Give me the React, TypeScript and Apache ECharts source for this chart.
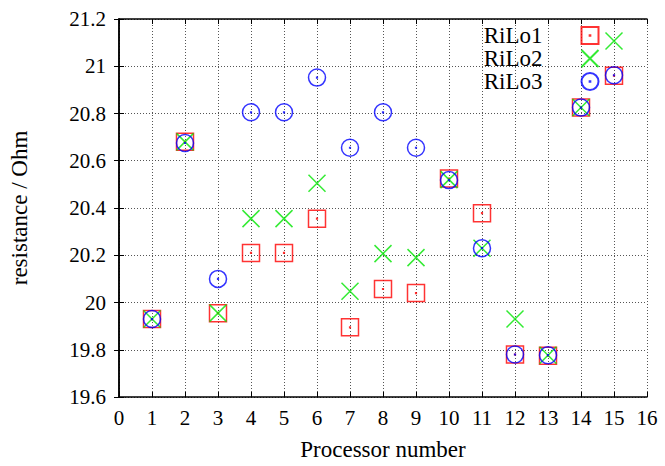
import React, { useEffect, useRef } from "react";
import * as echarts from "echarts";

const processors = [1, 2, 3, 4, 5, 6, 7, 8, 9, 10, 11, 12, 13, 14, 15];
const rilo1 = [19.93, 20.68, 19.955, 20.21, 20.21, 20.355, 19.895, 20.057, 20.04, 20.525, 20.378, 19.78, 19.775, 20.825, 20.96];
const rilo2 = [19.93, 20.68, 19.955, 20.355, 20.355, 20.505, 20.048, 20.207, 20.19, 20.52, 20.23, 19.93, 19.777, 20.825, 21.107];
const rilo3 = [19.93, 20.675, 20.1, 20.805, 20.805, 20.952, 20.655, 20.805, 20.655, 20.518, 20.23, 19.78, 19.777, 20.825, 20.962];
const seriesNames = ["RiLo1", "RiLo2", "RiLo3"];

const FONT = "Liberation Serif";

const SQUARE = "path://M0,0H20V20H0Z M9.6,9.6H10.4V10.4H9.6Z";
const CROSS = "path://M0,0L20,20M20,0L0,20";
const CIRCLE = "path://M0,10A10,10 0 1,0 20,10A10,10 0 1,0 0,10Z M9.6,9.6H10.4V10.4H9.6Z";

export default function App() {
  const ref = useRef<HTMLDivElement>(null);
  useEffect(() => {
    if (!ref.current) return;
    const chart = echarts.init(ref.current, null, { renderer: "svg" });
    const mk = (vals: number[]) => processors.map((p, i) => [p, vals[i]]);
    const axisLine = { show: true, lineStyle: { color: "#000", width: 1.5 } };
    const tick = { show: true, inside: true, length: 5, lineStyle: { color: "#000", width: 1 } };
    const split = { show: true, lineStyle: { color: "#555", width: 1, type: [1, 2] as any } };
    chart.setOption({
      animation: false,
      backgroundColor: "#fff",
      textStyle: { fontFamily: FONT },
      grid: { left: 119, right: 18, top: 19, bottom: 63 },
      legend: {
        data: seriesNames,
        orient: "vertical",
        right: 65.5,
        top: 24,
        padding: 0,
        align: "right",
        itemWidth: 17,
        itemHeight: 17,
        itemGap: 0,
        textStyle: { fontFamily: FONT, fontSize: 23, color: "#000", padding: [0, 34, 0, 0] },
      },
      xAxis: [
        {
          type: "value", min: 0, max: 16, interval: 1, position: "bottom",
          name: "Processor number", nameLocation: "middle", nameGap: 41,
          nameTextStyle: { fontFamily: FONT, fontSize: 23, color: "#000" },
          axisLine, axisTick: tick, splitLine: split,
          axisLabel: { fontFamily: FONT, fontSize: 21, color: "#000", margin: 10 },
        },
        {
          type: "value", min: 0, max: 16, interval: 1, position: "top",
          axisLine, axisTick: tick, splitLine: { show: false }, axisLabel: { show: false },
        },
      ],
      yAxis: [
        {
          type: "value", min: 19.6, max: 21.2, interval: 0.2, position: "left",
          name: "resistance / Ohm", nameLocation: "middle", nameGap: 88,
          nameTextStyle: { fontFamily: FONT, fontSize: 23, color: "#000" },
          axisLine, axisTick: tick, splitLine: split,
          axisLabel: { fontFamily: FONT, fontSize: 21, color: "#000", margin: 13 },
        },
        {
          type: "value", min: 19.6, max: 21.2, interval: 0.2, position: "right",
          axisLine, axisTick: tick, splitLine: { show: false }, axisLabel: { show: false },
        },
      ],
      series: [
        {
          name: "RiLo1", type: "scatter", data: mk(rilo1), symbol: SQUARE, symbolSize: 17,
          itemStyle: { color: "rgba(0,0,0,0)", borderColor: "#ff0000", borderWidth: 1.5 },
        },
        {
          name: "RiLo2", type: "scatter", data: mk(rilo2), symbol: CROSS, symbolSize: 17,
          itemStyle: { color: "rgba(0,0,0,0)", borderColor: "#00e600", borderWidth: 1.5 },
        },
        {
          name: "RiLo3", type: "scatter", data: mk(rilo3), symbol: CIRCLE, symbolSize: 17,
          itemStyle: { color: "rgba(0,0,0,0)", borderColor: "#0000ff", borderWidth: 1.5 },
        },
      ],
    });
    return () => chart.dispose();
  }, []);
  return <div ref={ref} style={{ width: 665, height: 466, position: "absolute", left: 0, top: 0 }} />;
}
